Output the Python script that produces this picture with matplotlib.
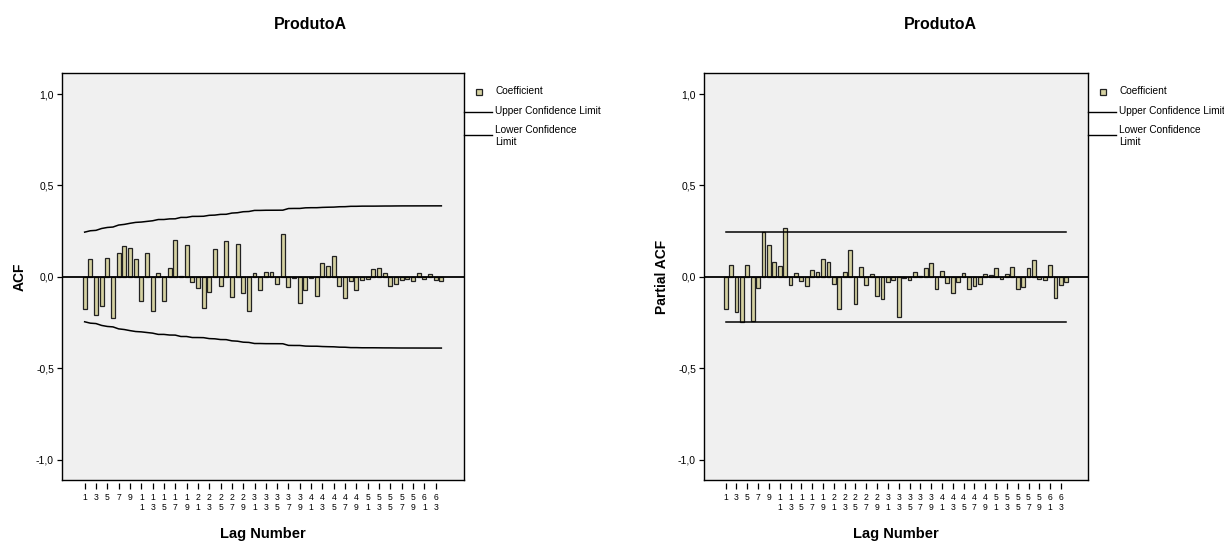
import numpy as np
import matplotlib
matplotlib.use("Agg")
import matplotlib.pyplot as plt
from matplotlib.lines import Line2D
from matplotlib.patches import Rectangle

plt.rcParams['font.family'] = ['Liberation Sans', 'DejaVu Sans']

# ---- data -------------------------------------------------------------
series_name = "ProdutoA"
n_obs = 64
lags = np.arange(1, 65)

acf = [-0.177, 0.097, -0.210, -0.158, 0.104, -0.224, 0.131, 0.169, 0.157, 0.097,
       -0.133, 0.133, -0.188, 0.020, -0.133, 0.049, 0.202, 0.005, 0.175, -0.026,
       -0.058, -0.169, -0.082, 0.151, -0.049, 0.195, -0.107, 0.178, -0.089, -0.188,
       0.024, -0.069, 0.027, 0.027, -0.036, 0.235, -0.056, -0.005, -0.144, -0.069,
       -0.005, -0.104, 0.075, 0.062, 0.113, -0.049, -0.113, -0.024, -0.073, -0.016,
       -0.009, 0.042, 0.047, 0.020, -0.047, -0.038, -0.016, -0.011, -0.022, 0.024,
       -0.013, 0.015, -0.016, -0.022]

pacf = [-0.177, 0.066, -0.189, -0.246, 0.066, -0.242, -0.058, 0.248, 0.177, 0.082,
        0.060, 0.270, -0.044, 0.020, -0.024, -0.051, 0.038, 0.029, 0.098, 0.082,
        -0.036, -0.177, 0.025, 0.146, -0.146, 0.053, -0.044, 0.016, -0.104, -0.122,
        -0.026, -0.015, -0.217, -0.005, -0.015, 0.027, 0.005, 0.047, 0.078, -0.067,
        0.033, -0.031, -0.086, -0.027, 0.020, -0.064, -0.049, -0.040, 0.016, 0.011,
        0.047, -0.013, 0.018, 0.055, -0.067, -0.053, 0.051, 0.095, -0.009, -0.015,
        0.067, -0.115, -0.042, -0.026]

yticks = [-1.0, -0.5, 0.0, 0.5, 1.0]
ytick_labels = ["-1,0", "-0,5", "0,0", "0,5", "1,0"]
xtick_lags = list(range(1, 64, 2))

# ---- confidence limits (95%) -----------------------------------------
z = 1.96
r2 = np.array(acf) ** 2
cum = np.concatenate([[0.0], np.cumsum(r2)[:-1]])
acf_se = np.sqrt((1 + 2 * cum) / n_obs)          # Bartlett approximation
acf_upper = z * acf_se
acf_lower = -acf_upper
pacf_upper = np.full(len(lags), z / np.sqrt(n_obs))
pacf_lower = -pacf_upper

# ---- styling ----------------------------------------------------------
W, H = 1224, 543
BAR_FILL = '#d5d1a1'
BAR_EDGE = '#222222'
PLOT_BG = '#f0f0f0'


def fx(px):
    return px / W


def fy(py):
    return 1 - py / H


def tick_label(k):
    s = str(k)
    return s if len(s) == 1 else s[0] + "\n" + s[1]


fig = plt.figure(figsize=(W / 100, H / 100), dpi=100)
fig.patch.set_facecolor('white')

panels = [
    dict(left=62, right=464, vals=acf, up=acf_upper, lo=acf_lower,
         ylabel="ACF", ylab_x=20, title_x=310),
    dict(left=704, right=1088, vals=pacf, up=pacf_upper, lo=pacf_lower,
         ylabel="Partial ACF", ylab_x=662, title_x=940),
]

TOP, BOTTOM = 73, 480

for p in panels:
    ax = fig.add_axes([fx(p['left']), fy(BOTTOM),
                       (p['right'] - p['left']) / W, (BOTTOM - TOP) / H])
    ax.set_facecolor(PLOT_BG)
    ax.bar(lags, p['vals'], width=0.7, color=BAR_FILL, edgecolor=BAR_EDGE,
           linewidth=0.9, zorder=2)
    ax.plot(lags, p['up'], color='black', lw=1.1, zorder=3)
    ax.plot(lags, p['lo'], color='black', lw=1.1, zorder=3)
    ax.axhline(0, color='black', lw=1.3, zorder=4)

    ax.set_xlim(-3, 68)
    ax.set_ylim(-1.11, 1.115)

    ax.tick_params(axis='y', direction='out', length=3.6, width=0.9, pad=2.2,
                   labelsize=7.5)
    ax.tick_params(axis='x', direction='out', length=4.0, width=0.9, pad=3.0,
                   labelsize=6.2)
    ax.set_yticks(yticks)
    ax.set_yticklabels(ytick_labels)
    ax.set_xticks(xtick_lags)
    ax.set_xticklabels([tick_label(k) for k in xtick_lags])
    for lbl in ax.get_xticklabels():
        lbl.set_fontsize(6.2)
        lbl.set_linespacing(1.05)

    for side in ('left', 'top', 'right'):
        ax.spines[side].set_linewidth(1.0)
    ax.spines['bottom'].set_position(('outward', 2))
    ax.spines['bottom'].set_visible(False)
    ax.add_line(Line2D([0, 1], [0, 0], transform=ax.transAxes, color='black',
                       lw=1.0, clip_on=False, zorder=5))

    # titles and axis labels
    fig.text(fx(p['title_x']), fy(24.5), series_name, ha='center', va='center',
             fontsize=11.5, fontweight='bold')
    fig.text(fx((p['left'] + p['right']) / 2), fy(534), "Lag Number",
             ha='center', va='center', fontsize=10.5, fontweight='bold')
    fig.text(fx(p['ylab_x']), fy(277), p['ylabel'], ha='center', va='center',
             rotation=90, fontsize=10, fontweight='bold')

    # legend
    R = p['right']
    fig.patches.append(Rectangle((fx(R + 12), fy(94.5)), 6 / W, 6 / H,
                                 transform=fig.transFigure, facecolor=BAR_FILL,
                                 edgecolor=BAR_EDGE, linewidth=0.9))
    fig.text(fx(R + 31), fy(91.5), "Coefficient", ha='left', va='center',
             fontsize=7.3)
    fig.lines.append(Line2D([fx(R), fx(R + 28)], [fy(111.5), fy(111.5)],
                            transform=fig.transFigure, color='black', lw=1.0))
    fig.text(fx(R + 31), fy(111.5), "Upper Confidence Limit", ha='left',
             va='center', fontsize=7.3)
    fig.lines.append(Line2D([fx(R), fx(R + 28)], [fy(135), fy(135)],
                            transform=fig.transFigure, color='black', lw=1.0))
    fig.text(fx(R + 31), fy(136), "Lower Confidence\nLimit", ha='left',
             va='center', fontsize=7.3, linespacing=1.15)

fig.savefig("out.png", dpi=100)
